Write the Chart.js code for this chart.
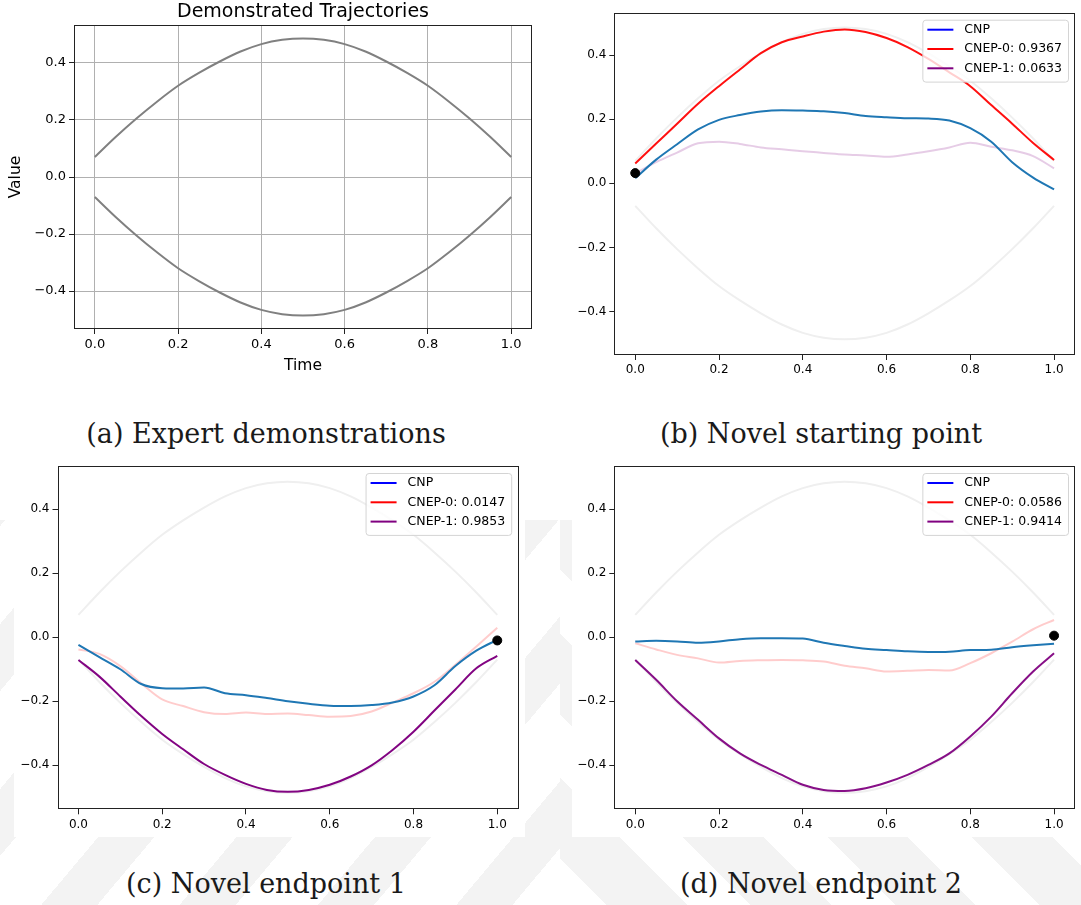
<!DOCTYPE html>
<html>
<head>
<meta charset="utf-8">
<script src="https://cdn.jsdelivr.net/npm/chart.js@4.4.0/dist/chart.umd.min.js"></script>
<style>
  body { margin: 0; background: #fff; }
  #page { position: relative; width: 1081px; height: 905px; overflow: hidden; background: #fff; }
  .stripes { position: absolute; }
  canvas { position: absolute; background: #fff; }
  .cap { position: absolute; font-family: "DejaVu Serif", serif; font-size: 27px; line-height: 27px;
         color: #1a1a1a; white-space: nowrap; transform: translateX(-50%); }
</style>
</head>
<body>
<div id="page">
  <div class="stripes" style="left:0;top:520px;width:560px;height:385px;
       background:repeating-linear-gradient(130deg,#f3f3f3 0 4px,transparent 4px 67px,#f3f3f3 67px 106px);"></div>
  <div class="stripes" style="left:560px;top:520px;width:521px;height:385px;
       background:repeating-linear-gradient(45deg,transparent 0 33px,#f3f3f3 33px 90px,transparent 90px 102px);"></div>

  <canvas id="chartA" width="545" height="380" style="left:0;top:0"></canvas>
  <canvas id="chartB" width="521" height="380" style="left:560px;top:0"></canvas>
  <canvas id="chartC" width="511" height="382" style="left:14px;top:455px"></canvas>
  <canvas id="chartD" width="509" height="382" style="left:572px;top:455px"></canvas>

  <div class="cap" style="left:266px;top:420px">(a) Expert demonstrations</div>
  <div class="cap" style="left:821px;top:420px">(b) Novel starting point</div>
  <div class="cap" style="left:266px;top:870px">(c) Novel endpoint 1</div>
  <div class="cap" style="left:821px;top:870px">(d) Novel endpoint 2</div>
</div>

<script>
// time steps shared by every trajectory
var times = [0, 0.05, 0.1, 0.15, 0.2, 0.25, 0.3, 0.35, 0.4, 0.45, 0.5,
             0.55, 0.6, 0.65, 0.7, 0.75, 0.8, 0.85, 0.9, 0.95, 1.0];
var xTicks = [0, 0.2, 0.4, 0.6, 0.8, 1.0];
var yTicks = [-0.4, -0.2, 0, 0.2, 0.4];

// expert demonstrations
var demoUpper = [0.070, 0.140, 0.205, 0.265, 0.320, 0.365, 0.405, 0.440, 0.466, 0.481, 0.486,
                 0.481, 0.466, 0.440, 0.405, 0.365, 0.320, 0.265, 0.205, 0.140, 0.070];
var demoLower = [-0.070, -0.140, -0.205, -0.265, -0.320, -0.365, -0.405, -0.440, -0.466, -0.481, -0.486,
                 -0.481, -0.466, -0.440, -0.405, -0.365, -0.320, -0.265, -0.205, -0.140, -0.070];

var modelNames = ['CNP', 'CNEP-0', 'CNEP-1'];

// (b) novel starting point
var startObs = [0, 0.032];
var startGates = [0.9367, 0.0633];
var startCnp = [0.016, 0.074, 0.122, 0.168, 0.198, 0.213, 0.224, 0.228, 0.227, 0.225, 0.219,
                0.210, 0.206, 0.203, 0.202, 0.196, 0.172, 0.130, 0.066, 0.018, -0.019];
var startCnep0 = [0.062, 0.124, 0.186, 0.248, 0.303, 0.355, 0.406, 0.440, 0.458, 0.473, 0.480,
                  0.472, 0.453, 0.425, 0.388, 0.346, 0.303, 0.244, 0.186, 0.126, 0.073];
var startCnep1 = [0.031, 0.066, 0.096, 0.125, 0.130, 0.123, 0.112, 0.106, 0.100, 0.095, 0.090,
                  0.087, 0.083, 0.090, 0.100, 0.112, 0.127, 0.114, 0.103, 0.085, 0.047];

// (c) novel endpoint 1
var end1Obs = [1.0, -0.010];
var end1Gates = [0.0147, 0.9853];
var end1Cnp = [-0.024, -0.062, -0.100, -0.146, -0.159, -0.160, -0.157, -0.175, -0.181, -0.190, -0.200,
               -0.208, -0.214, -0.215, -0.212, -0.204, -0.185, -0.150, -0.090, -0.042, -0.008];
var end1Cnep0 = [-0.038, -0.052, -0.090, -0.144, -0.194, -0.215, -0.234, -0.240, -0.235, -0.240, -0.238,
                 -0.243, -0.248, -0.246, -0.232, -0.204, -0.175, -0.139, -0.086, -0.029, 0.030];
var end1Cnep1 = [-0.071, -0.123, -0.185, -0.246, -0.302, -0.350, -0.396, -0.430, -0.458, -0.477, -0.483,
                 -0.477, -0.461, -0.435, -0.400, -0.352, -0.295, -0.229, -0.163, -0.097, -0.058];

// (d) novel endpoint 2
var end2Obs = [1.0, 0.005];
var end2Gates = [0.0586, 0.9414];
var end2Cnp = [-0.013, -0.011, -0.013, -0.017, -0.013, -0.006, -0.003, -0.003, -0.004, -0.017, -0.027,
               -0.036, -0.040, -0.044, -0.046, -0.045, -0.040, -0.039, -0.031, -0.025, -0.020];
var end2Cnep0 = [-0.019, -0.038, -0.055, -0.066, -0.079, -0.074, -0.072, -0.071, -0.072, -0.076, -0.089,
                 -0.097, -0.107, -0.105, -0.102, -0.104, -0.081, -0.050, -0.014, 0.025, 0.054];
var end2Cnep1 = [-0.071, -0.133, -0.200, -0.258, -0.316, -0.363, -0.399, -0.430, -0.461, -0.477, -0.480,
                 -0.472, -0.454, -0.430, -0.399, -0.363, -0.310, -0.248, -0.175, -0.107, -0.050];

Chart.defaults.font.family = '"DejaVu Sans", sans-serif';
Chart.defaults.color = '#000';
Chart.defaults.animation = false;

function pts(ys) {
    return times.map(function(t, i) { return { x: t, y: ys[i] }; });
}

function fmt(v) {
    return v < 0 ? '\u2212' + Math.abs(v).toFixed(1) : Math.abs(v).toFixed(1);
}

// axes box on all four sides, like matplotlib spines
var frame = {
    id: 'frame',
    afterDatasetsDraw: function(chart) {
        var a = chart.chartArea, ctx = chart.ctx;
        ctx.save();
        ctx.strokeStyle = '#222';
        ctx.lineWidth = 1;
        ctx.strokeRect(Math.round(a.left) + 0.5, Math.round(a.top) + 0.5,
                       Math.round(a.right - a.left) - 1, Math.round(a.bottom - a.top) - 1);
        ctx.restore();
    }
};

// title centred over the plot area rather than the whole canvas
var axesTitle = {
    id: 'axesTitle',
    afterDraw: function(chart, args, opts) {
        if (!opts.text) return;
        var a = chart.chartArea, ctx = chart.ctx;
        ctx.save();
        ctx.font = opts.size + 'px "DejaVu Sans"';
        ctx.fillStyle = '#000';
        ctx.textAlign = 'center';
        ctx.textBaseline = 'middle';
        ctx.fillText(opts.text, (a.left + a.right) / 2, opts.y);
        ctx.restore();
    }
};

// legend drawn inside the plot, upper right
var boxLegend = {
    id: 'boxLegend',
    afterDraw: function(chart, args, opts) {
        if (!opts.items) return;
        var ctx = chart.ctx, a = chart.chartArea;
        ctx.save();
        ctx.font = opts.size + 'px "DejaVu Sans"';
        var tw = Math.max.apply(null, opts.items.map(function(it) { return ctx.measureText(it.text).width; }));
        var w = 5 + 26 + 11 + tw + 6, h = 10 + (opts.items.length - 1) * 19.3 + 13.3;
        var x = a.right - 7 - w, y = a.top + 7;
        ctx.beginPath();
        ctx.roundRect(x + 0.5, y + 0.5, w, h, 3);
        ctx.fillStyle = 'rgba(255,255,255,0.8)';
        ctx.fill();
        ctx.strokeStyle = '#d4d4d4';
        ctx.lineWidth = 1;
        ctx.stroke();
        opts.items.forEach(function(it, i) {
            var ry = y + 10 + i * 19.3;
            ctx.beginPath();
            ctx.moveTo(x + 5, ry);
            ctx.lineTo(x + 31, ry);
            ctx.strokeStyle = it.color;
            ctx.lineWidth = 2;
            ctx.stroke();
            ctx.fillStyle = '#000';
            ctx.textBaseline = 'middle';
            ctx.fillText(it.text, x + 42, ry);
        });
        ctx.restore();
    }
};

function axis(o, ticks, isX) {
    return {
        type: 'linear',
        min: isX ? -0.05 : o.ymin,
        max: isX ? 1.05 : o.ymax,
        afterBuildTicks: function(s) { s.ticks = ticks.map(function(v) { return { value: v }; }); },
        afterFit: function(s) { if (isX) s.height = o.xh; else s.width = o.yw; },
        grid: { drawOnChartArea: !!o.grid, color: '#b0b0b0', tickColor: '#222', tickLength: 5, lineWidth: 1 },
        border: { display: false },
        ticks: { callback: fmt, font: { size: o.tick }, color: '#000', padding: 3, maxRotation: 0 },
        title: isX ? (o.xTitle || { display: false }) : (o.yTitle || { display: false })
    };
}

function panel(id, o) {
    return new Chart(document.getElementById(id), {
        type: 'line',
        data: { datasets: o.datasets },
        plugins: [frame, axesTitle, boxLegend],
        options: {
            responsive: false,
            layout: { padding: { top: o.top, right: o.right, left: 0, bottom: 0 } },
            elements: { point: { radius: 0 }, line: { cubicInterpolationMode: 'monotone', borderWidth: 2 } },
            scales: { x: axis(o, xTicks, true), y: axis(o, yTicks, false) },
            plugins: {
                legend: { display: false },
                tooltip: { enabled: false },
                title: { display: false },
                axesTitle: o.title || {},
                boxLegend: { items: o.legend, size: 12.5 }
            }
        }
    });
}

function line(ys, color, order) {
    return { data: pts(ys), borderColor: color, borderWidth: 2, pointRadius: 0, fill: false, order: order };
}

function obsSet(p) {
    return { data: [{ x: p[0], y: p[1] }], showLine: false, pointRadius: 4.5,
             pointBackgroundColor: '#000', pointBorderColor: '#000', order: 0 };
}

function gateAlpha(w) { return Math.max(w, 0.2); }

function predictionSets(obs, gates, cnp, c0, c1) {
    return [
        obsSet(obs),
        line(cnp, '#1f77b4', 1),
        line(c1, 'rgba(128,0,128,' + gateAlpha(gates[1]) + ')', 2),
        line(c0, 'rgba(255,0,0,' + gateAlpha(gates[0]) + ')', 3),
        line(demoUpper, '#efefef', 4),
        line(demoLower, '#efefef', 4)
    ];
}

function legendItems(gates) {
    return [
        { text: modelNames[0], color: 'blue' },
        { text: modelNames[1] + ': ' + gates[0].toFixed(4), color: 'red' },
        { text: modelNames[2] + ': ' + gates[1].toFixed(4), color: 'purple' }
    ];
}

// (a) demonstrations
panel('chartA', {
    top: 25, right: 13, xh: 51, yw: 74, ymin: -0.533, ymax: 0.533, tick: 13, grid: true,
    title: { text: 'Demonstrated Trajectories', size: 19, y: 12 },
    xTitle: { display: true, text: 'Time', color: '#000', font: { size: 15.5, lineHeight: 1.2 }, padding: { top: 0, bottom: 4.7 } },
    yTitle: { display: true, text: 'Value', color: '#000', font: { size: 15.5, lineHeight: 1.2 }, padding: { top: 6.2, bottom: 0 } },
    datasets: [line(demoUpper, '#808080', 0), line(demoLower, '#808080', 0)]
});

// (b) novel starting point
panel('chartB', {
    top: 12.7, right: 6, xh: 25, yw: 54.3, ymin: -0.535, ymax: 0.532, tick: 12,
    legend: legendItems(startGates),
    datasets: predictionSets(startObs, startGates, startCnp, startCnep0, startCnep1)
});

// (c) novel endpoint 1
panel('chartC', {
    top: 11, right: 6.8, xh: 27.7, yw: 43.5, ymin: -0.5375, ymax: 0.535, tick: 12,
    legend: legendItems(end1Gates),
    datasets: predictionSets(end1Obs, end1Gates, end1Cnp, end1Cnep0, end1Cnep1)
});

// (d) novel endpoint 2
panel('chartD', {
    top: 11, right: 6, xh: 27.7, yw: 42.3, ymin: -0.5375, ymax: 0.535, tick: 12,
    legend: legendItems(end2Gates),
    datasets: predictionSets(end2Obs, end2Gates, end2Cnp, end2Cnep0, end2Cnep1)
});
</script>
</body>
</html>
